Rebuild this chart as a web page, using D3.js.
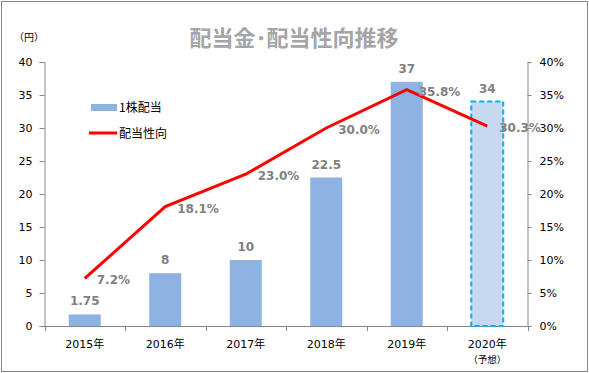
<!DOCTYPE html>
<html>
<head>
<meta charset="utf-8">
<script src="https://cdn.jsdelivr.net/npm/d3@7"></script>
<style>
  body { margin: 0; background: #fff; }
  text { font-family: "DejaVu Sans", "Noto Sans CJK JP", sans-serif; }
  .jp { font-family: "Noto Sans CJK JP", sans-serif; }
</style>
</head>
<body>
<div id="chart"></div>
<script>
// data
var years = ["2015年", "2016年", "2017年", "2018年", "2019年", "2020年"];
var dividends = [1.75, 8, 10, 22.5, 37, 34];
var dividendLabels = ["1.75", "8", "10", "22.5", "37", "34"];
var payoutRatio = [7.2, 18.1, 23.0, 30.0, 35.8, 30.3];
var leftTicks = [0, 5, 10, 15, 20, 25, 30, 35, 40];
var rightTicks = [0, 5, 10, 15, 20, 25, 30, 35, 40];

var width = 589, height = 373;
var plot = { left: 44.5, right: 527.5, top: 62, bottom: 326 };

var svg = d3.select("#chart").append("svg")
    .attr("width", width)
    .attr("height", height);

// 外枠
svg.append("rect")
    .attr("x", 1.5).attr("y", 1.5)
    .attr("width", width - 3).attr("height", height - 3)
    .style("fill", "#fff")
    .style("stroke", "#868686")
    .style("stroke-width", 1);

var xTicks = d3.scaleBand().domain(years).range([plot.left, plot.right]);

var yL = d3.scaleLinear().domain([0, 40]).range([plot.bottom, plot.top]);
var yR = d3.scaleLinear().domain([0, 40]).range([plot.bottom, plot.top]);

/* タイトル */
svg.append("text")
    .attr("class", "jp")
    .attr("x", 294)
    .attr("y", 46)
    .attr("text-anchor", "middle")
    .text("配当金･配当性向推移")
    .style("font-size", "22px")
    .style("font-weight", "bold")
    .style("fill", "#a5a5a5");

svg.append("text")
    .attr("class", "jp")
    .attr("x", 14).attr("y", 41)
    .text("（円）")
    .style("font-size", "10px")
    .style("fill", "#000");

/* 左軸 */
var axL = svg.append("g")
    .attr("transform", "translate(" + plot.left + ",0)")
    .call(d3.axisLeft(yL).tickValues(leftTicks).tickSize(5).tickPadding(7));
axL.selectAll("text").style("font-size", "11px").style("fill", "#000")
    .style("font-family", "DejaVu Sans");

/* 右軸 */
var axR = svg.append("g")
    .attr("transform", "translate(" + plot.right + ",0)")
    .call(d3.axisRight(yR).tickValues(rightTicks).tickSize(4).tickPadding(8)
        .tickFormat(function (d) { return d + "%"; }));
axR.selectAll("text").style("font-size", "11px").style("fill", "#000")
    .style("font-family", "DejaVu Sans");

[axL, axR].forEach(function (a) {
    a.select(".domain").style("stroke", "#868686");
    a.selectAll(".tick line").style("stroke", "#868686");
});

/* 下軸 */
svg.append("line")
    .attr("x1", plot.left).attr("x2", plot.right)
    .attr("y1", plot.bottom + 0.5).attr("y2", plot.bottom + 0.5)
    .style("stroke", "#868686");

var tickXs = years.map(function (d) { return xTicks(d); }).concat([plot.right]);
svg.selectAll("line.xtick")
    .data(tickXs)
    .enter().append("line")
    .attr("class", "xtick")
    .attr("x1", function (d) { return Math.round(d) + 0.5; })
    .attr("x2", function (d) { return Math.round(d) + 0.5; })
    .attr("y1", plot.bottom).attr("y2", plot.bottom + 5)
    .style("stroke", "#868686");

svg.selectAll("text.year")
    .data(years)
    .enter().append("text")
    .attr("class", "year")
    .attr("x", function (d) { return xTicks(d) + xTicks.bandwidth() / 2; })
    .attr("y", 348)
    .attr("text-anchor", "middle")
    .text(function (d) { return d; })
    .style("font-size", "11px")
    .style("fill", "#000");

svg.append("text")
    .attr("class", "jp")
    .attr("x", xTicks("2020年") + xTicks.bandwidth() / 2)
    .attr("y", 363)
    .attr("text-anchor", "middle")
    .text("（予想）")
    .style("font-size", "9.5px")
    .style("fill", "#000");

/* 棒グラフ */
var bw = 32;
svg.selectAll("rect.bar")
    .data(dividends)
    .enter().append("rect")
    .attr("class", "bar")
    .attr("x", function (d, i) { return xTicks(years[i]) + xTicks.bandwidth() / 2 - bw / 2; })
    .attr("y", function (d) { return yL(d); })
    .attr("width", bw)
    .attr("height", function (d) { return plot.bottom - yL(d); })
    .style("fill", function (d, i) { return i == 5 ? "#c6d9f1" : "#8db3e2"; })
    .style("stroke", function (d, i) { return i == 5 ? "#00b0f0" : "none"; })
    .style("stroke-width", 2)
    .style("stroke-dasharray", "5,3");

svg.selectAll("text.barLabel")
    .data(dividends)
    .enter().append("text")
    .attr("class", "barLabel")
    .attr("x", function (d, i) { return xTicks(years[i]) + xTicks.bandwidth() / 2; })
    .attr("y", function (d) { return yL(d) - 9; })
    .attr("text-anchor", "middle")
    .text(function (d, i) { return dividendLabels[i]; })
    .style("font-size", "12px")
    .style("font-weight", "bold")
    .style("fill", "#808080");

/* 折れ線 */
var line = d3.line()
    .x(function (d, i) { return xTicks(years[i]) + xTicks.bandwidth() / 2; })
    .y(function (d) { return yR(d); });

svg.append("path")
    .datum(payoutRatio)
    .attr("d", line)
    .style("fill", "none")
    .style("stroke", "#ff0000")
    .style("stroke-width", 3);

svg.selectAll("text.lineLabel")
    .data(payoutRatio)
    .enter().append("text")
    .attr("class", "lineLabel")
    .attr("x", function (d, i) { return xTicks(years[i]) + xTicks.bandwidth() / 2 + 12; })
    .attr("y", function (d) { return yR(d) + 6; })
    .text(function (d) { return d.toFixed(1) + "%"; })
    .style("font-size", "12px")
    .style("font-weight", "bold")
    .style("fill", "#808080");

/* 凡例 */
svg.append("rect")
    .attr("x", 91).attr("y", 104)
    .attr("width", 26).attr("height", 7)
    .style("fill", "#8db3e2");
svg.append("text")
    .attr("class", "jp")
    .attr("x", 119).attr("y", 112)
    .text("1株配当")
    .style("font-size", "12px")
    .style("fill", "#000");
svg.append("line")
    .attr("x1", 89).attr("x2", 117)
    .attr("y1", 133).attr("y2", 133)
    .style("stroke", "#ff0000")
    .style("stroke-width", 3);
svg.append("text")
    .attr("class", "jp")
    .attr("x", 119).attr("y", 138)
    .text("配当性向")
    .style("font-size", "12px")
    .style("fill", "#000");
</script>
</body>
</html>
